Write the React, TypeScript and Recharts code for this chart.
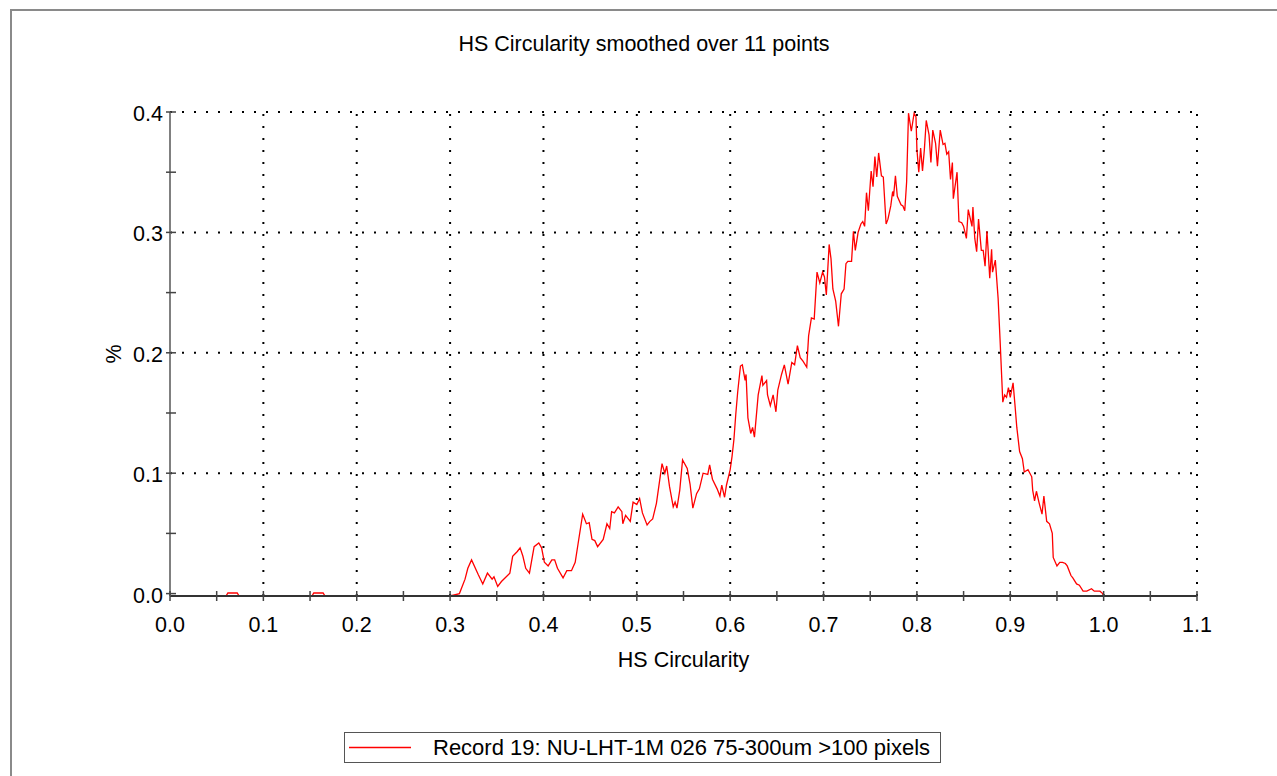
import React from "react";
import { LineChart, Line, XAxis, YAxis, ReferenceLine } from "recharts";

// HS circularity (x) and % of particles (y)
const circularity = [
  0, 0.06, 0.062, 0.072, 0.074, 0.152, 0.154, 0.164, 0.166, 0.3, 0.31,
  0.316, 0.319, 0.323, 0.33, 0.335, 0.34, 0.345, 0.347, 0.351, 0.355,
  0.364, 0.367, 0.372, 0.375, 0.378, 0.381, 0.385, 0.39, 0.395, 0.398,
  0.401, 0.405, 0.409, 0.412, 0.415, 0.421, 0.425, 0.43, 0.434, 0.437,
  0.442, 0.446, 0.449, 0.452, 0.455, 0.458, 0.464, 0.468, 0.471, 0.473,
  0.476, 0.48, 0.484, 0.485, 0.488, 0.493, 0.496, 0.5, 0.503, 0.506,
  0.511, 0.514, 0.517, 0.521, 0.527, 0.53, 0.532, 0.535, 0.539, 0.541,
  0.543, 0.546, 0.549, 0.554, 0.557, 0.56, 0.564, 0.567, 0.571, 0.576,
  0.578, 0.581, 0.586, 0.589, 0.591, 0.594, 0.596, 0.6, 0.602, 0.604,
  0.606, 0.608, 0.611, 0.613, 0.616, 0.617, 0.619, 0.622, 0.624, 0.626,
  0.63, 0.634, 0.635, 0.639, 0.64, 0.643, 0.646, 0.649, 0.651, 0.655,
  0.658, 0.662, 0.666, 0.669, 0.672, 0.675, 0.678, 0.682, 0.684, 0.687,
  0.69, 0.693, 0.696, 0.699, 0.701, 0.703, 0.706, 0.708, 0.71, 0.713,
  0.716, 0.719, 0.722, 0.724, 0.726, 0.73, 0.732, 0.734, 0.737, 0.74,
  0.742, 0.744, 0.746, 0.748, 0.751, 0.753, 0.755, 0.757, 0.759, 0.762,
  0.764, 0.767, 0.769, 0.772, 0.774, 0.775, 0.777, 0.779, 0.783, 0.785,
  0.787, 0.789, 0.791, 0.794, 0.797, 0.799, 0.8, 0.802, 0.804, 0.806,
  0.808, 0.81, 0.813, 0.815, 0.817, 0.82, 0.822, 0.825, 0.828, 0.83,
  0.832, 0.834, 0.836, 0.838, 0.839, 0.843, 0.845, 0.848, 0.85, 0.853,
  0.855, 0.859, 0.86, 0.862, 0.864, 0.866, 0.869, 0.871, 0.873, 0.875,
  0.876, 0.878, 0.88, 0.881, 0.884, 0.887, 0.889, 0.892, 0.894, 0.896,
  0.898, 0.9, 0.903, 0.905, 0.907, 0.91, 0.913, 0.915, 0.919, 0.923,
  0.924, 0.926, 0.928, 0.931, 0.934, 0.936, 0.939, 0.942, 0.945, 0.946,
  0.95, 0.953, 0.956, 0.959, 0.961, 0.965, 0.967, 0.971, 0.974, 0.978,
  0.982, 0.987, 0.99, 0.996, 0.999, 1.0,
];
const percent = [
  -0.002, -0.002, 0.0005, 0.0005, -0.002, -0.002, 0.0005, 0.0005, -0.002, -0.002, 0.0,
  0.012, 0.021, 0.028, 0.016, 0.008, 0.017, 0.012, 0.014, 0.006, 0.01,
  0.017, 0.031, 0.035, 0.038, 0.031, 0.021, 0.017, 0.039, 0.042, 0.038,
  0.026, 0.023, 0.028, 0.028, 0.021, 0.013, 0.019, 0.019, 0.026, 0.041,
  0.066, 0.058, 0.059, 0.045, 0.044, 0.039, 0.045, 0.058, 0.054, 0.068,
  0.067, 0.072, 0.068, 0.058, 0.065, 0.06, 0.076, 0.074, 0.079, 0.067,
  0.057, 0.06, 0.062, 0.075, 0.108, 0.1, 0.106, 0.089, 0.072, 0.076,
  0.071, 0.086, 0.111, 0.104, 0.091, 0.071, 0.083, 0.087, 0.1, 0.099,
  0.107, 0.095, 0.087, 0.081, 0.09, 0.08, 0.09, 0.103, 0.114, 0.128,
  0.149, 0.167, 0.189, 0.19, 0.177, 0.182, 0.146, 0.133, 0.138, 0.13,
  0.165, 0.181, 0.173, 0.177, 0.165, 0.156, 0.165, 0.151, 0.169, 0.182,
  0.19, 0.174, 0.192, 0.19, 0.206, 0.196, 0.193, 0.188, 0.214, 0.229,
  0.228, 0.267, 0.258, 0.267, 0.263, 0.248, 0.29, 0.278, 0.253, 0.243,
  0.222, 0.249, 0.253, 0.274, 0.276, 0.276, 0.301, 0.285, 0.3, 0.307,
  0.309, 0.305, 0.333, 0.318, 0.351, 0.338, 0.363, 0.346, 0.366, 0.347,
  0.346, 0.307, 0.311, 0.322, 0.334, 0.33, 0.347, 0.33, 0.323, 0.322,
  0.318, 0.342, 0.399, 0.384, 0.399, 0.396, 0.369, 0.35, 0.37, 0.351,
  0.369, 0.393, 0.381, 0.358, 0.385, 0.374, 0.355, 0.385, 0.373, 0.374,
  0.365, 0.367, 0.344, 0.358, 0.328, 0.35, 0.309, 0.308, 0.305, 0.295,
  0.319, 0.305, 0.321, 0.295, 0.284, 0.311, 0.285, 0.285, 0.272, 0.301,
  0.289, 0.262, 0.286, 0.267, 0.277, 0.245, 0.212, 0.159, 0.165, 0.163,
  0.171, 0.163, 0.175, 0.157, 0.138, 0.118, 0.112, 0.101, 0.103, 0.097,
  0.086, 0.077, 0.085, 0.075, 0.066, 0.081, 0.06, 0.058, 0.05, 0.03,
  0.023, 0.026, 0.026, 0.025, 0.023, 0.015, 0.013, 0.008, 0.007, 0.002,
  0.002, 0.004, 0.002, 0.002, 0.0, -0.002,
];

const xMajorTicks = [0, 0.1, 0.2, 0.3, 0.4, 0.5, 0.6, 0.7, 0.8, 0.9, 1.0, 1.1];
const xMinorTicks = [0.05, 0.15, 0.25, 0.35, 0.45, 0.55, 0.65, 0.75, 0.85, 0.95, 1.05];
const yMajorTicks = [0, 0.1, 0.2, 0.3, 0.4];
const yMinorTicks = [0.05, 0.15, 0.25, 0.35];

const chartTitle = "HS Circularity smoothed over 11 points";
const xAxisTitle = "HS Circularity";
const yAxisTitle = "%";
const seriesName = "Record 19: NU-LHT-1M 026 75-300um >100 pixels";
const seriesColor = "#ff0000";

const data = circularity.map((x, i) => ({ x, y: percent[i] }));

const FONT = "'Liberation Sans', Arial, Helvetica, sans-serif";
const W = 1277;
const H = 776;
const PLOT = { left: 170, right: 1197, top: 112, bottom: 596 };
const Y_AXIS_W = 60;
const X_AXIS_H = 80;
const LABEL_SIZE = 21.5;

const XTick = (props: any) => {
  const { x, y, payload } = props;
  const major = xMajorTicks.includes(payload.value);
  return (
    <g>
      <line x1={x} x2={x} y1={y - 5} y2={y + 5} stroke="#444" strokeWidth={1.5} />
      {major && (
        <text x={x} y={y + 36} textAnchor="middle" fontSize={LABEL_SIZE} fontFamily={FONT} fill="#000">
          {payload.value.toFixed(1)}
        </text>
      )}
    </g>
  );
};

const YTick = (props: any) => {
  const { x, y, payload } = props;
  const major = yMajorTicks.includes(payload.value);
  return (
    <g>
      <line x1={x - 4} x2={x + 6} y1={y} y2={y} stroke="#444" strokeWidth={1.5} />
      {major && (
        <text x={x - 7} y={y + 9} textAnchor="end" fontSize={LABEL_SIZE} fontFamily={FONT} fill="#000">
          {payload.value.toFixed(1)}
        </text>
      )}
    </g>
  );
};

export default function App() {
  const dotted = { stroke: "#000", strokeWidth: 2, strokeDasharray: "2 10" };
  const plotMidX = (PLOT.left + PLOT.right) / 2;
  const plotMidY = (PLOT.top + PLOT.bottom) / 2;

  return (
    <div style={{ position: "absolute", left: 0, top: 0, width: W, height: H, background: "#fff", overflow: "hidden", fontFamily: FONT }}>
      {/* frame of the original window */}
      <div style={{ position: "absolute", left: 10, top: 9, width: W, height: H, borderTop: "2px solid #8a8a8a", borderLeft: "2px solid #8a8a8a" }} />

      <div style={{ position: "absolute", left: 11, top: 34, width: 1266, textAlign: "center", fontSize: 21.5, lineHeight: 1, color: "#000" }}>
        {chartTitle}
      </div>

      <div style={{ position: "absolute", left: 0, top: 0 }}>
        <LineChart
          width={W}
          height={H}
          data={data}
          margin={{ top: PLOT.top, right: W - PLOT.right, bottom: H - PLOT.bottom - X_AXIS_H, left: PLOT.left - Y_AXIS_W }}
        >
          {xMajorTicks.slice(1).map((v) => (
            <ReferenceLine key={"gx" + v} x={v} {...dotted} />
          ))}
          {yMajorTicks.slice(1).map((v) => (
            <ReferenceLine key={"gy" + v} y={v} {...dotted} />
          ))}
          <XAxis
            type="number"
            dataKey="x"
            domain={[0, 1.1]}
            ticks={[...xMajorTicks, ...xMinorTicks].sort((a, b) => a - b)}
            interval={0}
            height={X_AXIS_H}
            tickSize={0}
            tickMargin={0}
            tickLine={false}
            tick={<XTick />}
            axisLine={{ stroke: "#333", strokeWidth: 2 }}
            label={(p: any) => (
              <text x={plotMidX} y={PLOT.bottom + 71} textAnchor="middle" fontSize={LABEL_SIZE} fontFamily={FONT} fill="#000">
                {xAxisTitle}
              </text>
            )}
          />
          <YAxis
            type="number"
            domain={[0, 0.4]}
            ticks={[...yMajorTicks, ...yMinorTicks].sort((a, b) => a - b)}
            interval={0}
            width={Y_AXIS_W}
            tickSize={0}
            tickMargin={0}
            tickLine={false}
            tick={<YTick />}
            axisLine={{ stroke: "#808080", strokeWidth: 2 }}
            label={(p: any) => (
              <text
                x={PLOT.left - 56}
                y={plotMidY}
                transform={`rotate(-90, ${PLOT.left - 56}, ${plotMidY})`}
                textAnchor="middle"
                dominantBaseline="central"
                fontSize={LABEL_SIZE}
                fontFamily={FONT}
                fill="#000"
              >
                {yAxisTitle}
              </text>
            )}
          />
          <Line
            type="linear"
            dataKey="y"
            name={seriesName}
            stroke={seriesColor}
            strokeWidth={1.3}
            dot={false}
            activeDot={false}
            isAnimationActive={false}
          />
        </LineChart>
      </div>

      {/* legend */}
      <div
        style={{
          position: "absolute",
          left: 344,
          top: 732,
          width: 597,
          height: 31,
          boxSizing: "border-box",
          border: "1px solid #555",
          display: "flex",
          alignItems: "center",
          fontSize: 22,
          color: "#000",
        }}
      >
        <svg width={66} height={6} style={{ marginLeft: 2, marginRight: 20, flex: "none", display: "block" }}>
          <line x1={2} x2={64} y1={2.5} y2={2.5} stroke={seriesColor} strokeWidth={1.3} />
        </svg>
        <span style={{ whiteSpace: "nowrap" }}>{seriesName}</span>
      </div>
    </div>
  );
}
